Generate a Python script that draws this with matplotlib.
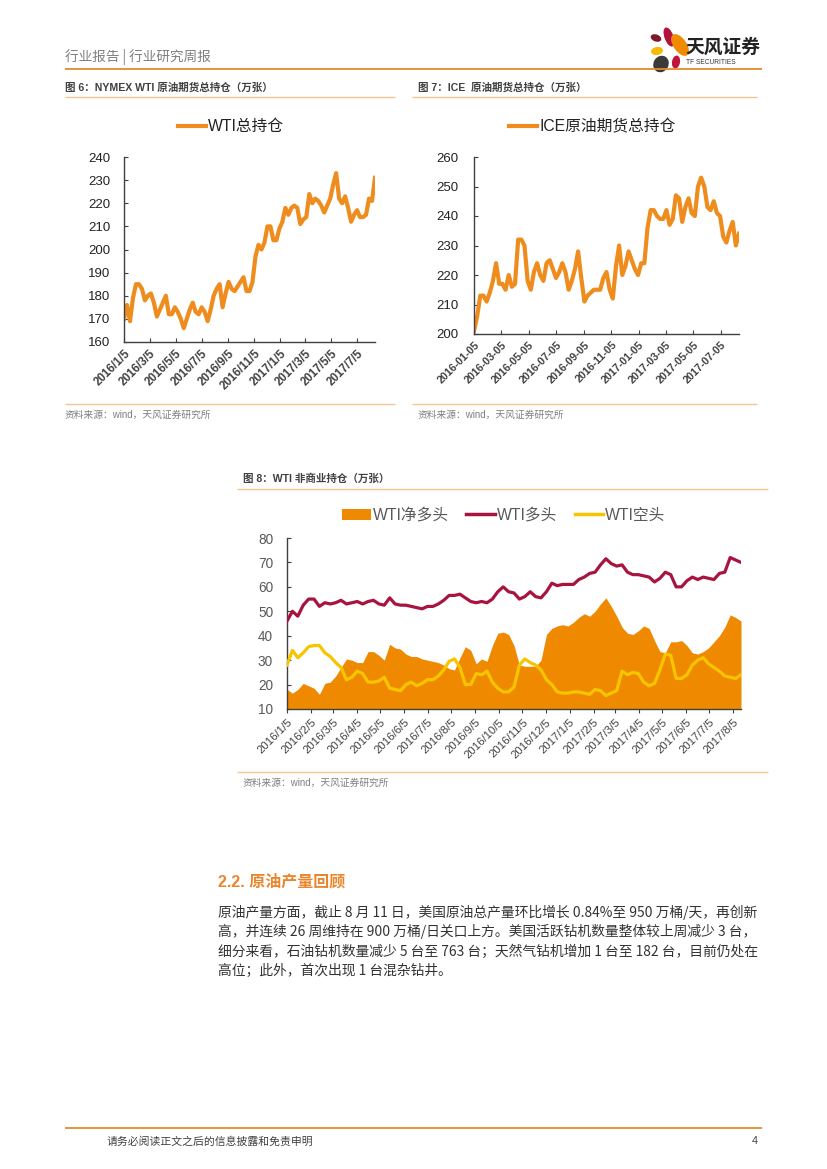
import numpy as np
import pandas as pd
import matplotlib
matplotlib.use('Agg')
import matplotlib.pyplot as plt
from matplotlib.patches import Ellipse, Patch
from matplotlib.lines import Line2D

W, H = 827, 1169
CJK = ['Noto Sans CJK SC', 'DejaVu Sans']
LAT = ['Liberation Sans', 'Noto Sans CJK SC', 'DejaVu Sans']
plt.rcParams['font.family'] = LAT

# ---------------- data ----------------
start_date = '2016-01-05'   # weekly observations (Tuesdays)

wti_total = [170, 176, 169, 179, 185, 185, 183, 178, 180, 181,
             177, 171, 174, 177, 180, 172, 172, 175, 173, 170,
             166, 170, 174, 177, 173, 172, 175, 173, 169, 174,
             180, 183, 185, 175, 181, 186, 183, 182, 184, 186,
             188, 182, 182, 186, 197, 202, 200, 203, 210, 210,
             204, 204, 209, 212, 218, 215, 218, 219, 218, 211,
             213, 214, 224, 220, 222, 221, 219, 216, 219, 222,
             228, 233, 222, 220, 223, 218, 212, 215, 217, 214,
             214, 215, 222, 221, 231]

ice_total = [201, 206, 213, 213, 211, 214, 218, 224, 217, 217,
             215, 220, 216, 217, 232, 232, 230, 218, 215, 221,
             224, 220, 218, 224, 225, 222, 219, 221, 224, 221,
             215, 218, 222, 228, 219, 211, 213, 214, 215, 215,
             215, 219, 221, 215, 212, 223, 230, 220, 223, 228,
             225, 222, 220, 224, 224, 236, 242, 242, 240, 239,
             239, 242, 237, 239, 247, 246, 238, 243, 246, 241,
             240, 250, 253, 250, 243, 242, 245, 241, 240, 233,
             231, 235, 238, 230, 234]

net_long = [18, 16.5, 18, 20.5, 19.5, 18.5, 16, 20.5, 21, 23.5,
            27, 30.5, 30, 29, 29, 33.5, 33.5, 32, 30, 36.5,
            35, 34.5, 32.5, 31.5, 31.5, 30.5, 30, 29.5, 29, 28,
            26.5, 26, 31, 35.5, 34, 28.5, 30.5, 29.5, 36, 41,
            41.5, 40.5, 36, 28, 27.5, 27.5, 27.5, 30, 40.5, 43,
            44, 44.5, 44, 45.5, 47.5, 49, 48, 50, 53, 55.5,
            52, 48, 43.5, 41, 40.5, 42, 44, 43, 38, 33.5,
            33, 37.5, 37.5, 38, 36, 33, 32.5, 33.5, 35, 37.5,
            40, 43.5, 48.5, 47.5, 46]

long_pos = [46, 50, 48, 52.5, 55, 55, 52, 53.5, 53, 53.5,
            54.5, 53, 53.5, 54, 53, 54, 54.5, 53, 52.5, 55.5,
            53, 52.5, 52.5, 52, 51.5, 51, 52, 52, 53, 54.5,
            56.5, 56.5, 57, 55.5, 54, 53.5, 54, 53.5, 55, 58,
            60, 58, 57.5, 55, 56, 58, 56, 55.5, 58, 61.5,
            60.5, 61, 61, 61, 63, 64, 65.5, 66, 69, 71.5,
            69.5, 68.5, 69, 66, 65, 65, 64.5, 64, 62, 63.5,
            66, 65, 60, 60, 62.5, 64, 63, 64, 63.5, 63,
            65.5, 66, 72, 71, 70]

short_pos = [28, 34, 31, 33, 35.5, 36, 36, 33, 31.5, 29,
             27, 22, 23, 25.5, 24.5, 21, 21, 21.5, 23, 18.5,
             18, 17.5, 20, 21, 19.5, 20.5, 22, 22, 23.5, 26,
             29.5, 30.5, 27, 20, 20, 24.5, 24, 25.5, 21, 18.5,
             17, 17, 19, 28, 30.5, 29, 28, 26, 22, 20,
             17, 16.5, 16.5, 17, 17, 16.5, 16, 18, 17.5, 15.5,
             16.5, 17.5, 25.5, 24, 25, 24.5, 21, 19.5, 20.5, 26,
             32.5, 32, 22.5, 22.5, 24, 28, 30, 31, 28.5, 27,
             25.5, 23.5, 23, 22.5, 24]

ticks1 = ['2016/1/5', '2016/3/5', '2016/5/5', '2016/7/5', '2016/9/5',
          '2016/11/5', '2017/1/5', '2017/3/5', '2017/5/5', '2017/7/5']
ticks2 = ['2016-01-05', '2016-03-05', '2016-05-05', '2016-07-05', '2016-09-05',
          '2016-11-05', '2017-01-05', '2017-03-05', '2017-05-05', '2017-07-05']
ticks3 = ['2016/1/5', '2016/2/5', '2016/3/5', '2016/4/5', '2016/5/5', '2016/6/5',
          '2016/7/5', '2016/8/5', '2016/9/5', '2016/10/5', '2016/11/5', '2016/12/5',
          '2017/1/5', '2017/2/5', '2017/3/5', '2017/4/5', '2017/5/5', '2017/6/5',
          '2017/7/5', '2017/8/5']

legend1 = 'WTI总持仓'
legend2 = 'ICE原油期货总持仓'
legend3 = ['WTI净多头', 'WTI多头', 'WTI空头']

# ---------------- styles ----------------
C_ORANGE_LINE = '#EF8C1E'
C_AREA = '#EF8A00'
C_RED = '#A8143F'
C_YELLOW = '#F6C500'
C_HEAD = '#E48A2C'
C_LIGHT = '#F3C48F'
C_AX = '#404040'

dates = pd.date_range(start_date, periods=len(wti_total), freq='7D')

fig = plt.figure(figsize=(W / 100, H / 100), dpi=100)
bg = fig.add_axes([0, 0, 1, 1], zorder=-1)
bg.set_xlim(0, W)
bg.set_ylim(H, 0)
bg.axis('off')


def T(x, y, s, size, color='#333333', ha='left', va='center', family=CJK, weight='normal'):
    bg.text(x, y, s, fontsize=size, color=color, ha=ha, va=va, family=family, fontweight=weight)


def HL(x1, x2, y, color, lw):
    bg.plot([x1, x2], [y, y], color=color, lw=lw, solid_capstyle='butt')


def px_axes(l, t, r, b):
    ax = fig.add_axes([l / W, 1 - b / H, (r - l) / W, (b - t) / H])
    ax.set_facecolor('none')
    for s in ['top', 'right']:
        ax.spines[s].set_visible(False)
    for s in ['left', 'bottom']:
        ax.spines[s].set_color(C_AX)
        ax.spines[s].set_linewidth(1.0)
    return ax


# ---------------- page header ----------------
T(65, 57, '行业报告 | 行业研究周报', 9.8, color='#7F7F7F')
HL(65, 762, 69, C_HEAD, 1.3)
# logo leaves
for (cx, cy, w, h, ang, col) in [
        (669, 37, 9, 20, -20, '#B0143C'),
        (680, 45, 13, 25, -35, '#F08A00'),
        (656, 38, 11, 7, 20, '#7A1A2A'),
        (657, 51, 12, 8, -10, '#F6B800'),
        (661, 64, 15, 17, 30, '#3A3A3A'),
        (676, 62, 8, 13, 10, '#C0143C')]:
    bg.add_patch(Ellipse((cx, cy), w, h, angle=ang, color=col, lw=0))
T(685, 47, '天风证券', 13.5, color='#222222', weight='bold')
T(686, 63, 'TF SECURITIES', 4.8, color='#333333', family=LAT)

# ---------------- captions ----------------
T(65, 88, '图 6：NYMEX WTI 原油期货总持仓（万张）', 7.6, color='#404040', family=LAT, weight='bold')
T(418, 88, '图 7：ICE  原油期货总持仓（万张）', 7.6, color='#404040', family=LAT, weight='bold')
HL(65, 395, 97, C_LIGHT, 1.0)
HL(412, 757, 97, C_LIGHT, 1.0)
HL(65, 395, 404, C_LIGHT, 1.0)
HL(412, 757, 404, C_LIGHT, 1.0)
T(65, 415, '资料来源：wind，天风证券研究所', 7, color='#7F7F7F', family=LAT)
T(418, 415, '资料来源：wind，天风证券研究所', 7, color='#7F7F7F', family=LAT)

T(243, 479, '图 8：WTI 非商业持仓（万张）', 7.6, color='#404040', family=LAT, weight='bold')
HL(237, 768, 489, C_LIGHT, 1.0)
HL(237, 768, 772, C_LIGHT, 1.0)
T(243, 783, '资料来源：wind，天风证券研究所', 7, color='#7F7F7F', family=LAT)

# ---------------- chart 1 ----------------
ax1 = px_axes(124, 157, 375, 342)
ax1.plot(dates, wti_total, color=C_ORANGE_LINE, lw=3.0, solid_joinstyle='round')
ax1.set_ylim(160, 240)
ax1.set_yticks(range(160, 241, 10))
ax1.set_xlim(dates[0], dates[-1])
xt1 = pd.to_datetime(ticks1, format='%Y/%m/%d')
ax1.set_xticks(xt1)
ax1.set_xticklabels(ticks1, rotation=45, ha='right', rotation_mode='anchor',
                    fontsize=8.3, fontweight='bold', color='#222222')
ax1.tick_params(axis='y', direction='in', length=3, labelsize=9.5, colors=C_AX, labelcolor='#222222', pad=10)
ax1.tick_params(axis='x', direction='in', length=3, colors=C_AX, pad=4)
ax1.legend([Line2D([0], [0], color=C_ORANGE_LINE, lw=3)], [legend1], loc='center',
           bbox_to_anchor=(231 / W, 1 - 127 / H), bbox_transform=fig.transFigure,
           frameon=False, prop=dict(family=LAT, size=11.3), handlelength=1.8, handletextpad=0.15,
           labelcolor='#222222')

# ---------------- chart 2 ----------------
ax2 = px_axes(474, 157, 739, 334)
ax2.plot(dates, ice_total, color=C_ORANGE_LINE, lw=3.0, solid_joinstyle='round')
ax2.set_ylim(200, 260)
ax2.set_yticks(range(200, 261, 10))
ax2.set_xlim(dates[0], dates[-1])
xt2 = pd.to_datetime(ticks2, format='%Y-%m-%d')
ax2.set_xticks(xt2)
ax2.set_xticklabels(ticks2, rotation=45, ha='right', rotation_mode='anchor',
                    fontsize=7.7, fontweight='bold', color='#222222')
ax2.tick_params(axis='y', direction='in', length=3, labelsize=9.5, colors=C_AX, labelcolor='#222222', pad=11)
ax2.tick_params(axis='x', direction='in', length=3, colors=C_AX, pad=4)
ax2.legend([Line2D([0], [0], color=C_ORANGE_LINE, lw=3)], [legend2], loc='center',
           bbox_to_anchor=(592 / W, 1 - 127 / H), bbox_transform=fig.transFigure,
           frameon=False, prop=dict(family=LAT, size=11.3), handlelength=1.8, handletextpad=0.15,
           labelcolor='#222222')

# ---------------- chart 3 ----------------
ax3 = px_axes(287, 538, 741, 709)
ax3.fill_between(dates, 0, net_long, color=C_AREA, lw=0, zorder=1)
ax3.plot(dates, long_pos, color=C_RED, lw=2.3, zorder=3, solid_joinstyle='round')
ax3.plot(dates, short_pos, color=C_YELLOW, lw=2.3, zorder=4, solid_joinstyle='round')
ax3.set_ylim(10, 80)
ax3.set_yticks(range(10, 81, 10))
ax3.set_xlim(dates[0], dates[-1])
xt3 = pd.to_datetime(ticks3, format='%Y/%m/%d')
ax3.set_xticks(xt3)
ax3.set_xticklabels(ticks3, rotation=45, ha='right', rotation_mode='anchor',
                    fontsize=8.2, color='#595959')
ax3.tick_params(axis='y', direction='in', length=3, labelsize=9.8, colors=C_AX, labelcolor='#595959', pad=10)
ax3.tick_params(axis='x', direction='out', length=3, colors=C_AX, pad=3)
ax3.legend([Patch(facecolor=C_AREA, lw=0),
            Line2D([0], [0], color=C_RED, lw=2.5),
            Line2D([0], [0], color=C_YELLOW, lw=2.5)], legend3,
           loc='center', ncol=3, bbox_to_anchor=(504 / W, 1 - 515 / H), bbox_transform=fig.transFigure,
           frameon=False, prop=dict(family=LAT, size=11.3), handlelength=1.8, handletextpad=0.15,
           columnspacing=1.1, labelcolor='#595959')

# ---------------- text section ----------------
T(218, 882, '2.2. 原油产量回顾', 11.5, color='#E9862D', family=LAT, weight='bold')
body = [
    '原油产量方面，截止 8 月 11 日，美国原油总产量环比增长 0.84%至 950 万桶/天，再创新',
    '高，并连续 26 周维持在 900 万桶/日关口上方。美国活跃钻机数量整体较上周减少 3 台，',
    '细分来看，石油钻机数量减少 5 台至 763 台；天然气钻机增加 1 台至 182 台，目前仍处在',
    '高位；此外，首次出现 1 台混杂钻井。',
]
for i, line in enumerate(body):
    T(218, 912 + i * 19.7, line, 9.95, color='#333333')

# ---------------- footer ----------------
HL(65, 762, 1128, C_HEAD, 1.3)
T(107, 1141, '请务必阅读正文之后的信息披露和免责申明', 7.8, color='#404040')
T(758, 1141, '4', 7.8, color='#404040', ha='right', family=LAT)

fig.savefig('out.png', dpi=100)
